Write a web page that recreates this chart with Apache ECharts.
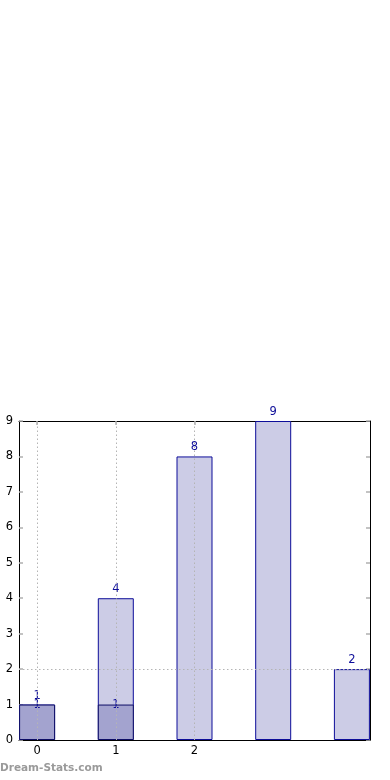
<!DOCTYPE html>
<html>
<head>
<meta charset="utf-8">
<style>html,body{margin:0;padding:0;background:#fff;}#c{width:390px;height:780px;}</style>
<script src="https://cdn.jsdelivr.net/npm/echarts@6/dist/echarts.min.js"></script>
</head>
<body>
<div id="c"></div>
<script>
var positions = [0, 1, 2, 3, 4];
var lightValues = [1, 4, 8, 9, 2];
var darkPositions = [0, 1];
var darkValues = [1, 1];
var xTickValues = [0, 1, 2];

var lightData = positions.map(function (p, i) { return [p, lightValues[i]]; });
var darkData = darkPositions.map(function (p, i) { return [p, darkValues[i]]; });

var chart = echarts.init(document.getElementById('c'), null, {renderer: 'canvas'});
var font = 'DejaVu Sans';
var tickStyle = {color: '#b0b0b0', width: 1.5};
chart.setOption({
  animation: false,
  textStyle: {fontFamily: font},
  grid: {left: 19, right: 20, top: 421, bottom: 40},
  xAxis: [{
    type: 'value', min: -0.23, max: 4.23, position: 'bottom',
    axisLine: {show: true, onZero: false, lineStyle: {color: '#000', width: 1}},
    axisTick: {show: true, inside: true, length: 4, customValues: xTickValues, lineStyle: tickStyle},
    axisLabel: {show: true, customValues: xTickValues, color: '#000', fontSize: 11.5, fontFamily: font, margin: 5},
    splitLine: {show: false}
  }, {
    type: 'value', min: -0.23, max: 4.23, position: 'top',
    axisLine: {show: true, onZero: false, lineStyle: {color: '#000', width: 1}},
    axisTick: {show: true, inside: true, length: 4, customValues: xTickValues, lineStyle: tickStyle},
    axisLabel: {show: false},
    splitLine: {show: false}
  }],
  yAxis: [{
    type: 'value', min: 0, max: 9, interval: 1, position: 'left',
    axisLine: {show: true, onZero: false, lineStyle: {color: '#000', width: 1}},
    axisTick: {show: true, inside: true, length: 4, lineStyle: tickStyle},
    axisLabel: {color: '#000', fontSize: 11.5, fontFamily: font, margin: 6},
    splitLine: {show: false}
  }, {
    type: 'value', min: 0, max: 9, interval: 1, position: 'right',
    axisLine: {show: true, onZero: false, lineStyle: {color: '#000', width: 1}},
    axisTick: {show: true, inside: true, length: 4, lineStyle: tickStyle},
    axisLabel: {show: false},
    splitLine: {show: false}
  }],
  series: [{
    type: 'bar', name: 'all', data: lightData, barWidth: 36, barGap: '-100%',
    itemStyle: {color: '#ccccе6'.replace('е', 'e'), borderColor: '#0d0d99', borderWidth: 1},
    label: {show: true, position: 'top', distance: 3, color: '#0d0d99', fontSize: 11.5, fontFamily: font},
    markLine: {
      silent: true, symbol: 'none', label: {show: false},
      lineStyle: {type: [1.5, 2.5], color: '#b4b4b4', width: 1},
      data: [{xAxis: 0}, {xAxis: 1}, {xAxis: 2}, {yAxis: 2}]
    },
    z: 2
  }, {
    type: 'bar', name: 'sub', data: darkData, barWidth: 36, barGap: '-100%',
    itemStyle: {color: '#a3a3cf', borderColor: '#0d0d66', borderWidth: 1},
    label: {show: true, position: 'top', distance: -6, color: '#0d0d99', fontSize: 11.5, fontFamily: font},
    z: 3
  }],
  graphic: [{
    type: 'text', left: 0, top: 763,
    style: {text: 'Dream-Stats.com', fill: '#9a9a9a', font: 'bold 10.5px "DejaVu Sans"'}
  }]
});
</script>
</body>
</html>
